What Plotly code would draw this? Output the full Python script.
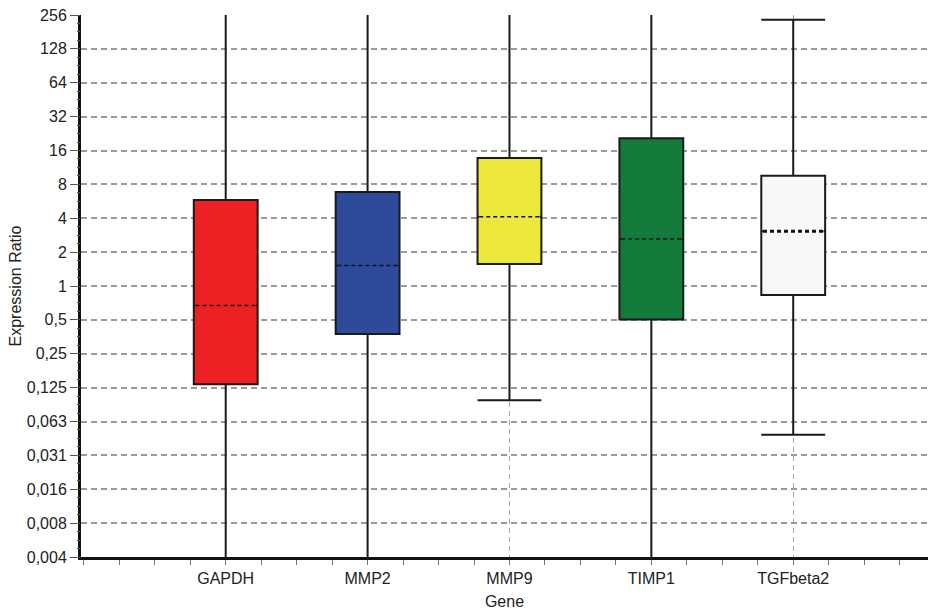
import math
import plotly.graph_objects as go

# ---- data ----
genes = ["GAPDH", "MMP2", "MMP9", "TIMP1", "TGFbeta2"]
q1 = [0.134, 0.374, 1.57, 0.503, 0.83]
median = [0.67, 1.52, 4.13, 2.62, 3.06]
q3 = [5.8, 6.85, 13.7, 20.6, 9.55]
lower_whisker = [0.002, 0.002, 0.0966, 0.002, 0.0477]
upper_whisker = [512, 512, 512, 512, 232]
fill_colors = ["#ED2024", "#2E4B9B", "#EDE83C", "#137A3C", "#F8F8F8"]
median_widths = [1.5, 1.5, 1.5, 1.5, 3]

y_tick_vals = [2.0 ** k for k in range(-8, 9)]
y_tick_text = ["0,004", "0,008", "0,016", "0,031", "0,063", "0,125", "0,25", "0,5",
               "1", "2", "4", "8", "16", "32", "64", "128", "256"]
y_minor_vals = [2.0 ** (k / 4) for k in range(-32, 33)]

BOX_W = 0.45
FONT = "Liberation Sans, Arial, sans-serif"

fig = go.Figure()

for i, g in enumerate(genes):
    fig.add_trace(go.Box(
        x=[i], q1=[q1[i]], median=[median[i]], q3=[q3[i]],
        lowerfence=[lower_whisker[i]], upperfence=[upper_whisker[i]],
        width=BOX_W, whiskerwidth=1,
        fillcolor=fill_colors[i],
        line=dict(color="#1a1a1a", width=2),
        boxpoints=False, showlegend=False, hoverinfo="skip", name=g,
    ))

for i, g in enumerate(genes):
    half = BOX_W / 2 - 0.012
    # cover the solid median with the box colour, then draw the dashed median
    fig.add_trace(go.Scatter(
        x=[i - half, i + half], y=[median[i], median[i]], mode="lines",
        line=dict(color=fill_colors[i], width=3.5), showlegend=False, hoverinfo="skip",
    ))
    fig.add_trace(go.Scatter(
        x=[i - half, i + half], y=[median[i], median[i]], mode="lines",
        line=dict(color="#111111", width=median_widths[i], dash="4px,3px"),
        showlegend=False, hoverinfo="skip",
    ))

# invisible trace to host the minor-tick axis
fig.add_trace(go.Scatter(x=[0], y=[1], yaxis="y2", mode="markers",
                         marker=dict(opacity=0), showlegend=False, hoverinfo="skip"))

yrange = [math.log10(2.0 ** -8), math.log10(2.0 ** 8)]

fig.update_layout(
    width=928, height=614,
    margin=dict(l=81, r=0, t=15, b=57),
    paper_bgcolor="white", plot_bgcolor="white",
    font=dict(family=FONT, size=16, color="#222222"),
    xaxis=dict(
        range=[-1.02, 4.95], tickvals=list(range(len(genes))), ticktext=genes,
        automargin=False,
        showline=True, linewidth=3, linecolor="#111111",
        ticks="outside", ticklen=5, tickcolor="#777777",
        minor=dict(dtick=0.25, tick0=0, ticks="outside", ticklen=5, tickcolor="#777777", showgrid=False),
        showgrid=True, gridcolor="#aaaaaa", gridwidth=1, griddash="5px,4px",
        zeroline=False,
        title=dict(text="Gene", standoff=10, font=dict(size=16)),
    ),
    yaxis=dict(
        type="log", range=yrange, tickvals=y_tick_vals, ticktext=y_tick_text,
        automargin=False,
        showline=True, linewidth=3, linecolor="#111111",
        ticks="outside", ticklen=8, tickcolor="#555555",
        showgrid=True, gridcolor="#9a9a9a", gridwidth=1.6, griddash="6px,4px",
        zeroline=False,
        title=dict(text="Expression Ratio", standoff=2, font=dict(size=16)),
    ),
    yaxis2=dict(
        type="log", range=yrange, overlaying="y", anchor="x", side="left",
        automargin=False,
        tickvals=y_minor_vals, showticklabels=False, ticks="outside", ticklen=3,
        tickcolor="#555555", showgrid=False, showline=False, zeroline=False,
    ),
)

fig.write_html(
    "out.html",
    config={"displayModeBar": False},
    post_script="document.body.style.margin='0';document.body.style.padding='0';",
)
